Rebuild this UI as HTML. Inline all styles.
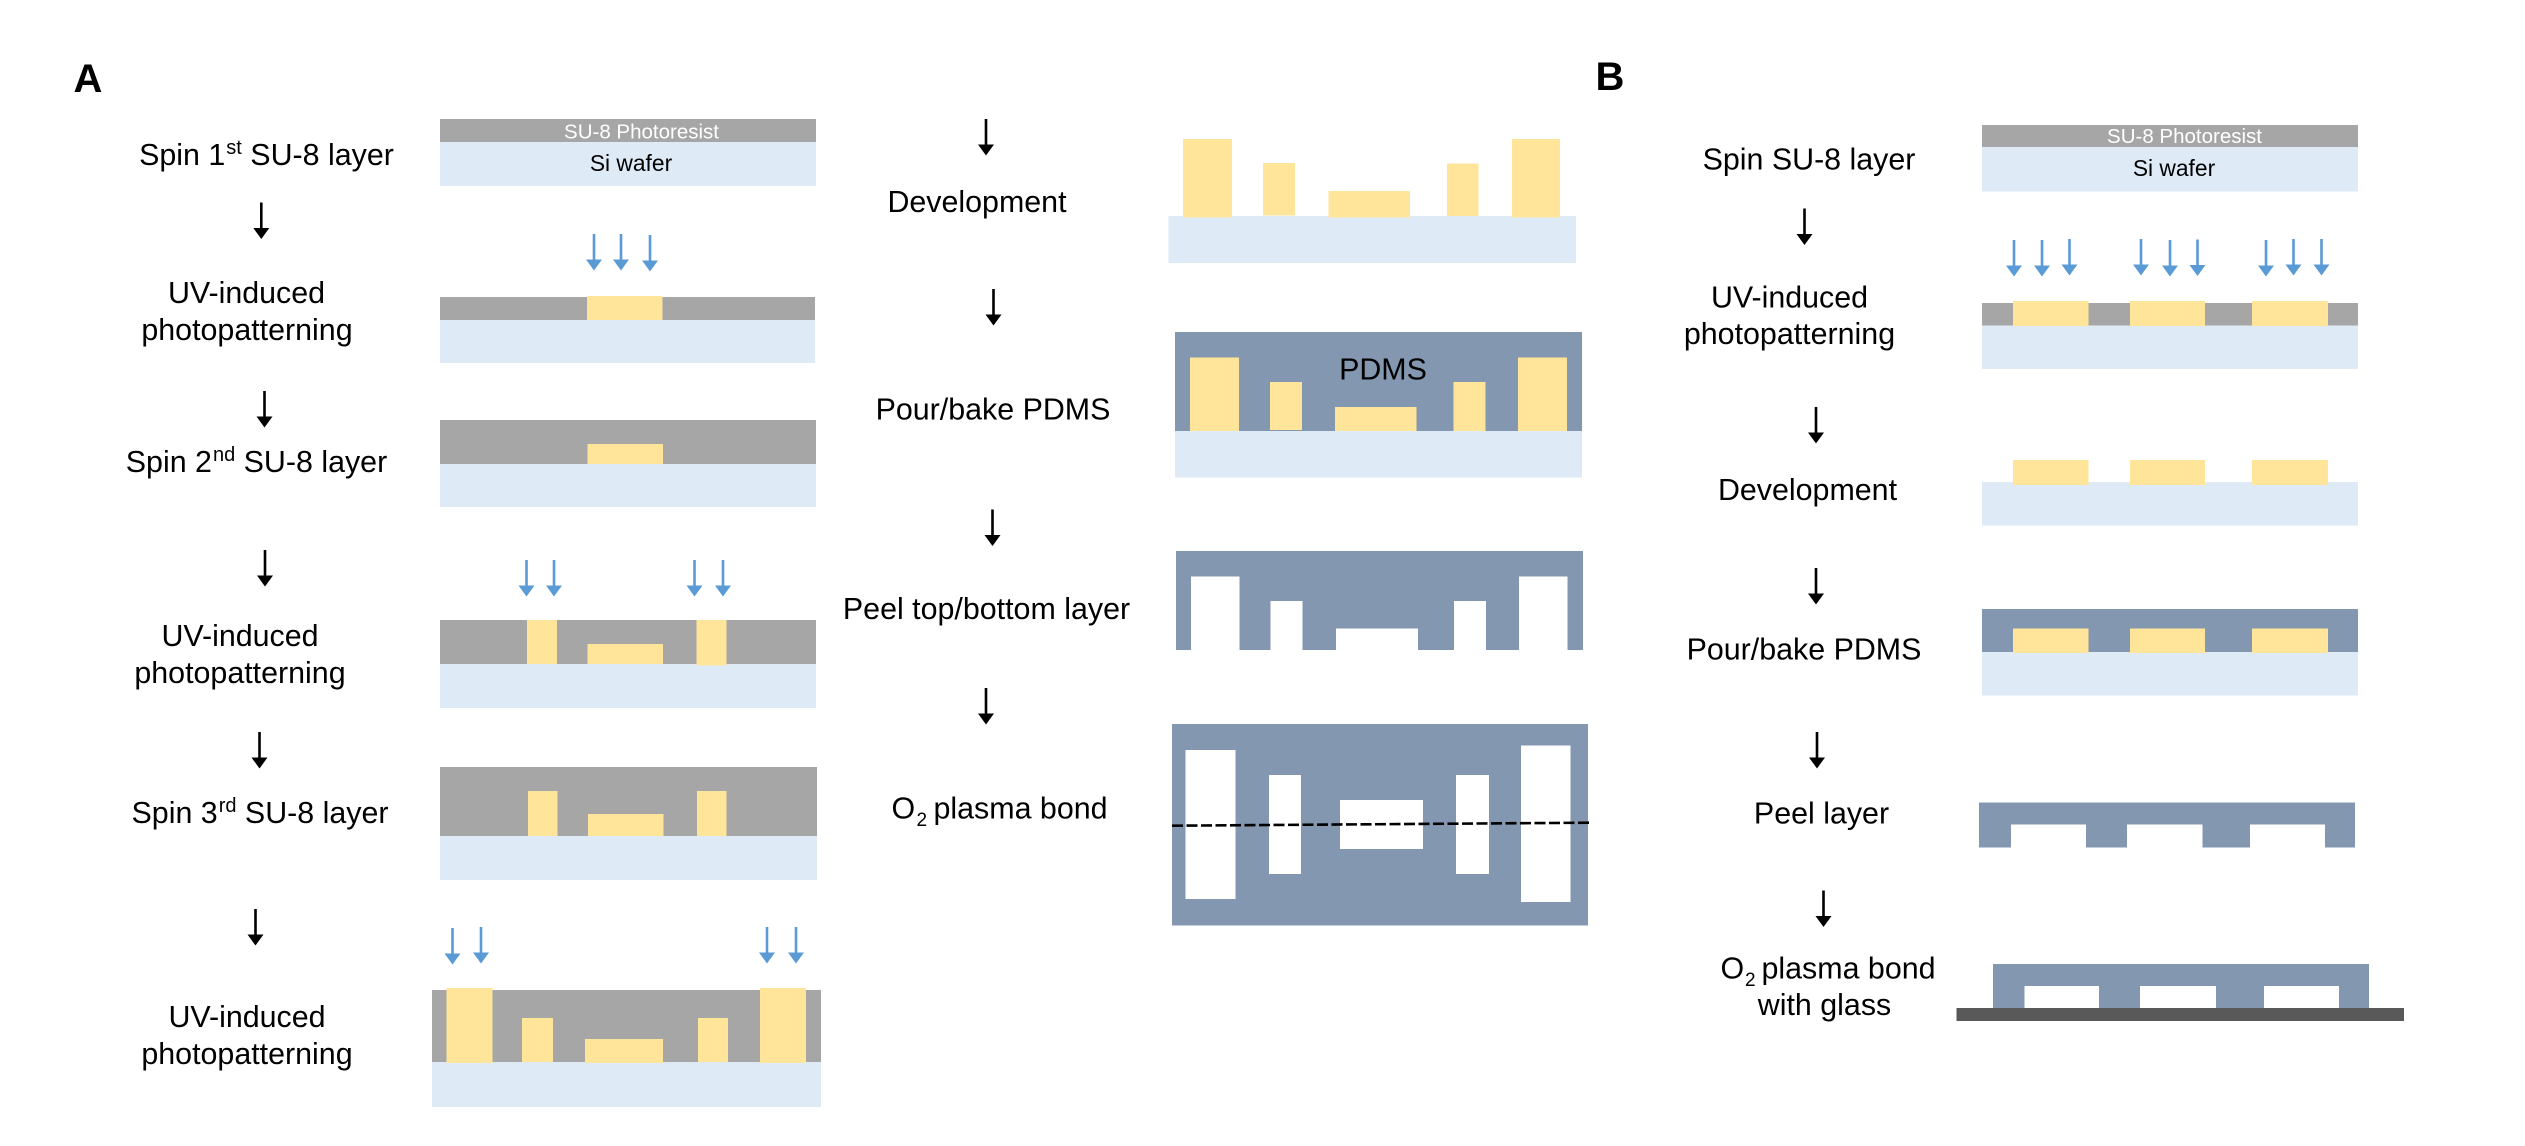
<!DOCTYPE html>
<html><head><meta charset="utf-8"><style>
html,body{margin:0;padding:0;background:#fff;width:2525px;height:1146px;overflow:hidden}
svg{display:block}
text{font-family:"Liberation Sans",Arial,sans-serif;font-size:30.4px;fill:#000;text-anchor:middle;white-space:pre}
.s{text-anchor:start}
.g{fill:#a6a6a6}.b{fill:#deeaf6}.y{fill:#ffe599}.p{fill:#8497b0}.w{fill:#fff}
</style></head><body>
<svg width="2525" height="1146" viewBox="0 0 2525 1146" xmlns="http://www.w3.org/2000/svg">
<defs>
<g id="k"><rect x="-1.300" y="0" width="2.600" height="27" fill="#000"/><polygon points="-8,25.500 8,25.500 0,36.500" fill="#000"/></g>
<g id="u"><rect x="-1.300" y="0" width="2.600" height="27" fill="#5b9bd5"/><polygon points="-8,25.500 8,25.500 0,36.500" fill="#5b9bd5"/></g>
</defs>
<text x="88" y="92" style="font-size:40px;font-weight:bold">A</text>
<text x="1610" y="90" style="font-size:40px;font-weight:bold">B</text>

<!-- Panel A, left labels -->
<text x="266.500" y="165">Spin 1<tspan dx="1" dy="-11" style="font-size:20px">st</tspan><tspan dy="11"> SU-8 layer</tspan></text>
<text x="246.500" y="303">UV-induced</text><text x="247" y="340">photopatterning</text>
<text x="256.500" y="472">Spin 2<tspan dx="1" dy="-11" style="font-size:20px">nd</tspan><tspan dy="11"> SU-8 layer</tspan></text>
<text x="240" y="646">UV-induced</text><text x="240" y="683">photopatterning</text>
<text x="260" y="823">Spin 3<tspan dx="1" dy="-11" style="font-size:20px">rd</tspan><tspan dy="11"> SU-8 layer</tspan></text>
<text x="247" y="1027">UV-induced</text><text x="247" y="1064">photopatterning</text>
<use href="#k" x="261.300" y="202.500"/><use href="#k" x="264.500" y="391"/><use href="#k" x="265" y="550"/><use href="#k" x="259.500" y="732"/><use href="#k" x="255.500" y="909"/>

<!-- A1 -->
<rect class="b" x="440" y="142" width="376" height="44"/><rect class="g" x="440" y="119" width="376" height="23"/>
<text x="641.500" y="138.500" style="font-size:20.500px;fill:#fff">SU-8 Photoresist</text>
<text x="631" y="171" style="font-size:22.800px">Si wafer</text>
<!-- A2 -->
<use href="#u" x="594" y="234"/><use href="#u" x="621" y="234"/><use href="#u" x="650" y="235"/>
<rect class="b" x="440" y="320" width="375" height="43"/><rect class="g" x="440" y="297" width="375" height="23"/><rect class="y" x="587" y="296" width="75.500" height="24"/>
<!-- A3 -->
<rect class="b" x="440" y="464" width="376" height="43"/><rect class="g" x="440" y="420" width="376" height="44"/><rect class="y" x="587.500" y="444" width="75.500" height="20"/>
<!-- A4 -->
<use href="#u" x="526.500" y="560"/><use href="#u" x="554" y="560"/><use href="#u" x="694.500" y="560"/><use href="#u" x="723" y="560"/>
<rect class="b" x="440" y="664" width="376" height="44"/><rect class="g" x="440" y="620" width="376" height="44"/>
<rect class="y" x="527" y="620" width="30" height="44"/><rect class="y" x="696.500" y="620" width="30" height="45.500"/><rect class="y" x="587.500" y="644" width="75.500" height="20"/>
<!-- A5 -->
<rect class="b" x="440" y="836" width="377" height="44"/><rect class="g" x="440" y="767" width="377" height="69"/>
<rect class="y" x="528" y="791" width="29.500" height="45"/><rect class="y" x="697" y="791" width="29.500" height="45"/><rect class="y" x="588" y="814" width="75.500" height="22"/>
<!-- A6 -->
<use href="#u" x="452.500" y="928"/><use href="#u" x="481" y="927"/><use href="#u" x="767" y="927"/><use href="#u" x="796" y="927"/>
<rect class="b" x="432" y="1062" width="389" height="45"/><rect class="g" x="432" y="990" width="389" height="72"/>
<rect class="y" x="446.500" y="988" width="46" height="75"/><rect class="y" x="760" y="988" width="46" height="75"/>
<rect class="y" x="522" y="1018" width="31" height="44"/><rect class="y" x="698" y="1018" width="30" height="44"/><rect class="y" x="585" y="1039" width="78" height="24"/>

<!-- Panel A, middle -->
<use href="#k" x="986" y="119"/><use href="#k" x="993.500" y="289"/><use href="#k" x="992.500" y="509.500"/><use href="#k" x="986" y="688"/>
<text x="977" y="212">Development</text>
<text x="993" y="419.500">Pour/bake PDMS</text>
<text x="986.500" y="619">Peel top/bottom layer</text>
<text class="s" x="891.500" y="818.500">O</text><text class="s" x="916.500" y="826" style="font-size:19px">2</text><text class="s" x="933.500" y="818.500">plasma bond</text>

<!-- Development -->
<rect class="b" x="1168.500" y="216" width="407.500" height="47"/>
<rect class="y" x="1183" y="139" width="49" height="78.500"/><rect class="y" x="1263" y="163" width="32" height="52.500"/><rect class="y" x="1328.500" y="191" width="81.500" height="26.500"/><rect class="y" x="1447" y="163.500" width="31.500" height="52.500"/><rect class="y" x="1512" y="139" width="48" height="78.500"/>
<!-- PDMS -->
<rect class="b" x="1175" y="431" width="407" height="46.500"/><rect class="p" x="1175" y="332" width="407" height="99"/>
<rect class="y" x="1190" y="357.500" width="49" height="73.500"/><rect class="y" x="1270" y="382" width="32" height="48"/><rect class="y" x="1335" y="407" width="81.500" height="24"/><rect class="y" x="1453.500" y="382" width="32" height="49"/><rect class="y" x="1518" y="357.500" width="49" height="73.500"/>
<text x="1383" y="379.500">PDMS</text>
<!-- Peel -->
<rect class="p" x="1176" y="551" width="407" height="99"/>
<rect class="w" x="1191" y="576.500" width="48.500" height="74"/><rect class="w" x="1270.500" y="601" width="32" height="49.500"/><rect class="w" x="1336" y="628.500" width="82" height="22"/><rect class="w" x="1454" y="601" width="32" height="49.500"/><rect class="w" x="1519" y="576.500" width="48.500" height="74"/>
<!-- Bond -->
<rect class="p" x="1172" y="724" width="416" height="201.500"/>
<rect class="w" x="1185.500" y="750" width="50" height="149"/><rect class="w" x="1269" y="775" width="32" height="99"/><rect class="w" x="1340" y="800" width="83" height="49"/><rect class="w" x="1456" y="775" width="33" height="99"/><rect class="w" x="1521" y="745.500" width="49.500" height="156.500"/>
<line x1="1172" y1="825.700" x2="1589" y2="822.700" stroke="#000" stroke-width="2.600" stroke-dasharray="11 3.500"/>

<!-- Panel B -->
<text x="1809" y="169.500">Spin SU-8 layer</text>
<text x="1789.500" y="307.500">UV-induced</text><text x="1789.500" y="344">photopatterning</text>
<text x="1807.500" y="500">Development</text>
<text x="1804" y="659.500">Pour/bake PDMS</text>
<text x="1821.500" y="823.500">Peel layer</text>
<text class="s" x="1720.500" y="978.500">O</text><text class="s" x="1745" y="986" style="font-size:19px">2</text><text class="s" x="1761.500" y="978.500">plasma bond</text>
<text x="1824.500" y="1015">with glass</text>
<use href="#k" x="1804.500" y="208.500"/><use href="#k" x="1816" y="407"/><use href="#k" x="1816" y="568"/><use href="#k" x="1817" y="732"/><use href="#k" x="1823.500" y="890.500"/>

<!-- B1 -->
<rect class="b" x="1982" y="147" width="376" height="44.500"/><rect class="g" x="1982" y="125" width="376" height="22"/>
<text x="2184.500" y="143" style="font-size:20.500px;fill:#fff">SU-8 Photoresist</text>
<text x="2174" y="176" style="font-size:22.800px">Si wafer</text>
<!-- B2 -->
<use href="#u" x="2014" y="240"/><use href="#u" x="2042" y="240"/><use href="#u" x="2069.500" y="239"/><use href="#u" x="2141" y="239"/><use href="#u" x="2170" y="240"/><use href="#u" x="2197.500" y="239.500"/><use href="#u" x="2266" y="240"/><use href="#u" x="2293.500" y="239"/><use href="#u" x="2321.500" y="239"/>
<rect class="b" x="1982" y="325.500" width="376" height="43.500"/><rect class="g" x="1982" y="303" width="376" height="22.500"/>
<rect class="y" x="2013" y="301" width="75.500" height="25"/><rect class="y" x="2130" y="301" width="75" height="25"/><rect class="y" x="2252" y="301" width="76" height="25"/>
<!-- B3 -->
<rect class="b" x="1982" y="482" width="376" height="43.500"/>
<rect class="y" x="2013" y="460" width="75.500" height="25"/><rect class="y" x="2130" y="460" width="75" height="25"/><rect class="y" x="2252" y="460" width="76" height="25"/>
<!-- B4 -->
<rect class="b" x="1982" y="652" width="376" height="43.500"/><rect class="p" x="1982" y="609" width="376" height="43"/>
<rect class="y" x="2013" y="628.500" width="75.500" height="24.500"/><rect class="y" x="2130" y="628.500" width="75" height="24.500"/><rect class="y" x="2252" y="628.500" width="76" height="24.500"/>
<!-- B5 -->
<rect class="p" x="1979" y="802.500" width="376" height="45"/>
<rect class="w" x="2011" y="824.500" width="75" height="23.500"/><rect class="w" x="2127" y="824.500" width="75.500" height="23.500"/><rect class="w" x="2250" y="824.500" width="75" height="23.500"/>
<!-- B6 -->
<rect class="p" x="1993" y="964" width="376" height="44.500"/>
<rect class="w" x="2024.500" y="986" width="74.500" height="22.500"/><rect class="w" x="2140" y="986" width="76" height="22.500"/><rect class="w" x="2264" y="986" width="75" height="22.500"/>
<rect x="1956.500" y="1008" width="447.500" height="13" fill="#595959"/>
</svg>
</body></html>
